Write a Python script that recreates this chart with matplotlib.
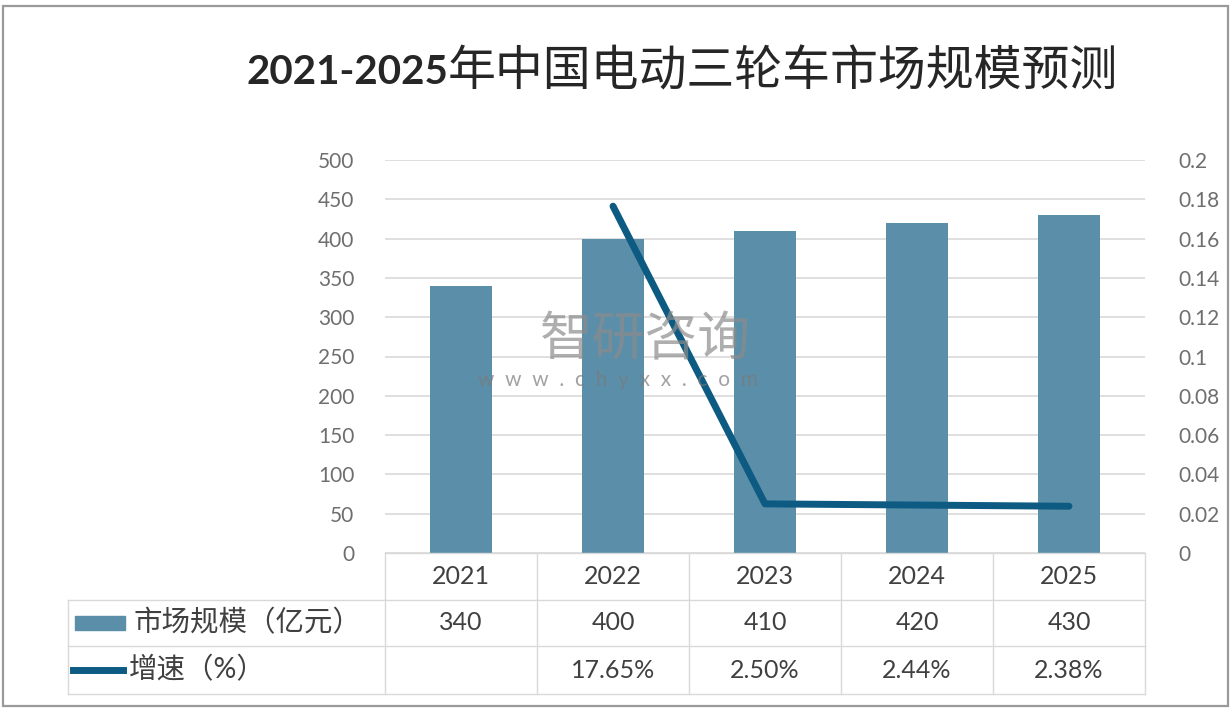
import matplotlib.pyplot as plt
from matplotlib.patches import Rectangle
from matplotlib.lines import Line2D

plt.rcParams['font.family'] = ['Lato', 'Noto Sans CJK SC', 'DejaVu Sans']

# data
years = ['2021', '2022', '2023', '2024', '2025']
market = [340, 400, 410, 420, 430]
growth = [None, 0.1765, 0.025, 0.0244, 0.0238]
growth_labels = ['', '17.65%', '2.50%', '2.44%', '2.38%']
bar_name = '市场规模（亿元）'
line_name = '增速（%）'
title_year = '2021-2025'
title_text = '年中国电动三轮车市场规模预测'

bar_color = '#5b8fa9'
line_color = '#0d5a82'
grid_color = '#d9d9d9'
text_color = '#404040'
tick_color = '#6e6e6e'

fig = plt.figure(figsize=(12.32, 7.12), dpi=100)
fig.patch.set_facecolor('white')

# outer frame
fig.patches.append(Rectangle((3 / 1232, 6 / 712), 1225 / 1232, 700 / 712,
                             transform=fig.transFigure, fill=False,
                             edgecolor='#9a9a9a', linewidth=1.6))

ax = fig.add_axes([385 / 1232, 1 - 553 / 712, 760 / 1232, 393 / 712])
ax2 = ax.twinx()

x = list(range(len(years)))
ax.bar(x, market, width=0.41, color=bar_color, zorder=2)
ax.set_xlim(-0.5, len(years) - 0.5)
ax.set_ylim(0, 500)
ax.set_yticks(range(0, 501, 50))
ax.yaxis.grid(True, color=grid_color, linewidth=1.2, zorder=0)
ax.set_axisbelow(True)
ax.set_xticks([])

gx = [i for i, g in zip(x, growth) if g is not None]
gy = [g for g in growth if g is not None]
ax2.plot(gx, gy, color=line_color, linewidth=5, solid_capstyle='round', zorder=3)
ax2.set_ylim(0, 0.2)
ax2.set_yticks([i / 100 for i in range(0, 21, 2)])
ax2.set_yticklabels(['0', '0.02', '0.04', '0.06', '0.08', '0.1', '0.12',
                     '0.14', '0.16', '0.18', '0.2'])

for a in (ax, ax2):
    for s in a.spines.values():
        s.set_visible(False)
    a.tick_params(axis='y', length=0, labelsize=15, labelcolor=tick_color, pad=24)
ax.tick_params(axis='y', pad=22)

# data table below the axes
row_h = [0, -47 / 393, -93 / 393, -141 / 393]
left = (68 - 385) / 760
tr = ax.transAxes
lw = 1.0
ax.add_line(Line2D([0, 1], [0, 0], transform=tr, color=grid_color, lw=lw, clip_on=False))
for yy in row_h[1:]:
    ax.add_line(Line2D([left, 1], [yy, yy], transform=tr, color=grid_color, lw=lw, clip_on=False))
for i in range(len(years) + 1):
    xx = i / len(years)
    ax.add_line(Line2D([xx, xx], [0, row_h[-1]], transform=tr, color=grid_color, lw=lw, clip_on=False))
ax.add_line(Line2D([left, left], [row_h[1], row_h[-1]], transform=tr, color=grid_color, lw=lw, clip_on=False))

rows = [years, [str(v) for v in market], growth_labels]
for r, vals in enumerate(rows):
    yc = (row_h[r] + row_h[r + 1]) / 2
    for i, v in enumerate(vals):
        ax.text((i + 0.5) / len(years), yc, v, transform=tr, ha='center', va='center',
                fontsize=18, color=text_color)

# legend column
yc1 = (row_h[1] + row_h[2]) / 2
yc2 = (row_h[2] + row_h[3]) / 2
ax.add_patch(Rectangle(((75 - 385) / 760, yc1 - 0.019), 50 / 760, 0.038,
                       transform=tr, color=bar_color, clip_on=False))
ax.add_line(Line2D([(73 - 385) / 760, (123 - 385) / 760], [yc2, yc2], transform=tr,
                   color=line_color, lw=5, clip_on=False))
ax.text((133 - 385) / 760, yc1, bar_name, transform=tr, ha='left', va='center',
        fontsize=20.5, color=text_color)
ax.text((129 - 385) / 760, yc2, line_name, transform=tr, ha='left', va='center',
        fontsize=20.5, color=text_color)

# watermark
fig.text(540 / 1232, 1 - 340 / 712, '智研咨询', fontsize=38, color='#8c8c8c', alpha=0.7,
         ha='left', va='center', zorder=5)
fig.text(478 / 1232, 1 - 380 / 712, 'w  w  w  .  c  h  y  x  x  .  c  o  m',
         fontsize=15, color='#7a7a7a', alpha=0.7, ha='left', va='center', zorder=5)

# title
fig.text(448 / 1232, 1 - 72 / 712, title_year, fontsize=29, fontweight='bold',
         color='#262626', ha='right', va='center')
fig.text(448 / 1232, 1 - 72 / 712, title_text, fontsize=34.5, color='#262626',
         ha='left', va='center', family=['Noto Sans CJK SC'])

fig.savefig('out.png', dpi=100)
